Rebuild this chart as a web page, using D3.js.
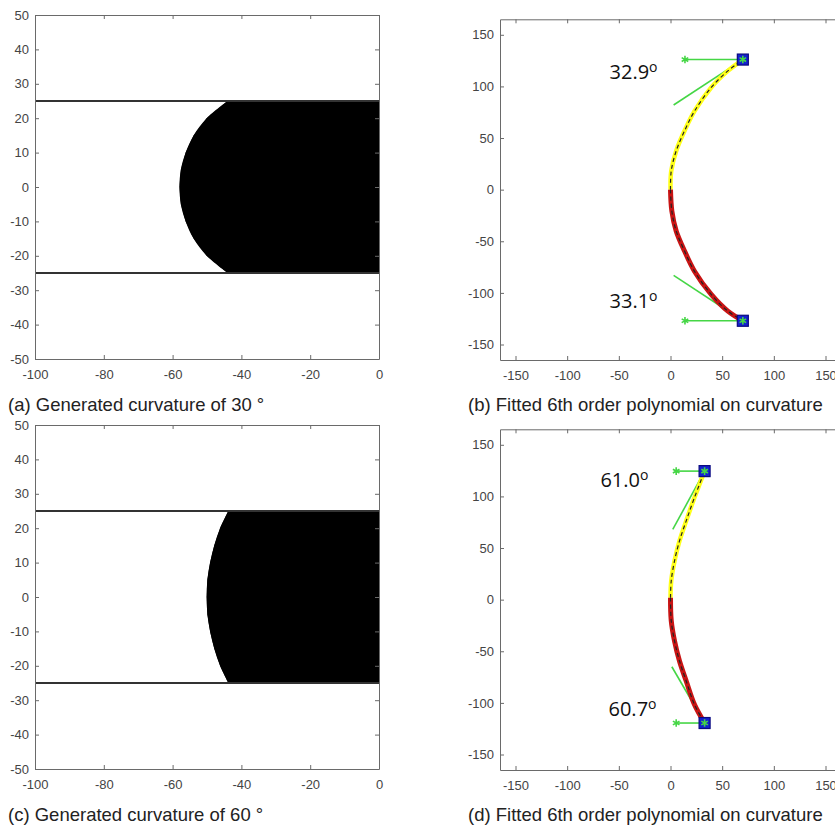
<!DOCTYPE html>
<html>
<head>
<meta charset="utf-8">
<script src="https://cdn.jsdelivr.net/npm/d3@7"></script>
<style>
  body { margin: 0; background: #fff; }
  svg { display: block; }
</style>
</head>
<body>
<div id="chart"></div>
<script>
// ---- data ----

// (a)/(c) boundary of the black segment, sampled along y
const capY = [25, 20, 15, 10, 5, 0, -5, -10, -15, -20, -25];
const capX30 = [-44, -50.1, -53.9, -56.2, -57.6, -58, -57.6, -56.2, -53.9, -50.1, -44];
const capX60 = [-43.8, -46.2, -47.9, -49.1, -49.9, -50.1, -49.9, -49.1, -47.9, -46.2, -43.8];
const wallY = [25, -25];
const leftXTicks = [-100, -80, -60, -40, -20, 0];
const leftYTicks = [-50, -40, -30, -20, -10, 0, 10, 20, 30, 40, 50];

// (b) fitted curve, 30 deg
const upperX30 = [0, 0.7, 5.5, 13.6, 23.2, 39.4, 55.5, 70];
const upperY30 = [0, 18, 37.5, 57, 76, 99, 115, 126];
const lowerX30 = [0, 1.3, 5.5, 13.6, 23.2, 39.4, 55.5, 70];
const lowerY30 = [0, -20.7, -40, -59.5, -79, -101.5, -117.7, -127];
const tipX30 = [70, 70];
const tipY30 = [126, -127];
const refX30 = [14, 14];
const tanX30 = [3, 3];
const tanY30 = [82, -83];
const angles30 = ['32.9', '33.1'];
const labelX30 = [-59, -59];
const labelY30 = [107, -115];

// (d) fitted curve, 60 deg
const upperX60 = [0, 0.7, 3.9, 8.7, 15.2, 23.2, 33];
const upperY60 = [1.9, 18.1, 37.5, 56.9, 76.3, 98.9, 124.5];
const lowerX60 = [0, 0.7, 3.9, 8.7, 15.2, 23.2, 33];
const lowerY60 = [1.9, -20.1, -40, -59.4, -78.8, -101.6, -119.5];
const tipX60 = [33, 33];
const tipY60 = [124.5, -119.5];
const refX60 = [5.5, 5.5];
const tanX60 = [2.2, 1.3];
const tanY60 = [68, -65];
const angles60 = ['61.0', '60.7'];
const labelX60 = [-67.8, -60];
const labelY60 = [109, -113];

const rightTicks = [-150, -100, -50, 0, 50, 100, 150];

const captions = [
  '(a) Generated curvature of 30 °',
  '(b) Fitted 6th order polynomial on curvature',
  '(c) Generated curvature of 60 °',
  '(d) Fitted 6th order polynomial on curvature'
];

// ---- drawing ----
const width = 835, height = 825;
const rowOffset = 410;
const axisColor = '#6a6a6a';
const textColor = '#444';
const green = '#45d645';

const svg = d3.select('#chart').append('svg')
  .attr('width', width)
  .attr('height', height)
  .style('font-family', '"Liberation Sans", Arial, sans-serif');

function styleAxis(g) {
  g.select('.domain').attr('stroke', axisColor).attr('stroke-width', 1);
  g.selectAll('.tick line').attr('stroke', axisColor);
  g.selectAll('.tick text').attr('fill', textColor).style('font-size', '13px');
}

// plain hyphen for negatives, like the original
const fmt = d => String(d);

function drawBox(g, x, y, xTicks, yTicks, labelPad) {
  const [x0, x1] = x.range();
  const [y0, y1] = y.range();
  g.append('g').attr('transform', `translate(0,${y0})`)
    .call(d3.axisBottom(x).tickValues(xTicks).tickFormat(fmt).tickSizeInner(-4).tickSizeOuter(0).tickPadding(labelPad))
    .call(styleAxis);
  g.append('g').attr('transform', `translate(0,${y1})`)
    .call(d3.axisTop(x).tickValues(xTicks).tickSizeInner(-4).tickSizeOuter(0).tickFormat(''))
    .call(styleAxis);
  g.append('g').attr('transform', `translate(${x0},0)`)
    .call(d3.axisLeft(y).tickValues(yTicks).tickFormat(fmt).tickSizeInner(-4).tickSizeOuter(0).tickPadding(6))
    .call(styleAxis);
  g.append('g').attr('transform', `translate(${x1},0)`)
    .call(d3.axisRight(y).tickValues(yTicks).tickSizeInner(-4).tickSizeOuter(0).tickFormat(''))
    .call(styleAxis);
}

function drawGenerated(top, capX, caption) {
  const g = svg.append('g');
  const x = d3.scaleLinear().domain([-100, 0]).range([35, 379]);
  const y = d3.scaleLinear().domain([-50, 50]).range([top + 344, top]);

  // black segment: straight right side plus the curved cap
  const pts = [[0, wallY[0]]]
    .concat(capY.map((v, i) => [capX[i], v]))
    .concat([[0, wallY[1]]]);
  g.append('path')
    .attr('d', d3.line().x(d => x(d[0])).y(d => y(d[1])).curve(d3.curveLinearClosed)(pts))
    .attr('fill', '#000');
  // smooth the cap edge
  g.append('path')
    .attr('d', d3.line().x(d => x(d[0])).y(d => y(d[1])).curve(d3.curveCatmullRom)(capY.map((v, i) => [capX[i], v])))
    .attr('fill', '#000').attr('stroke', 'none');

  // channel walls
  g.selectAll('.wall').data(wallY).enter().append('line')
    .attr('x1', x(-100)).attr('x2', x(0))
    .attr('y1', d => y(d)).attr('y2', d => y(d))
    .attr('stroke', '#333').attr('stroke-width', 2);

  drawBox(g, x, y, leftXTicks, leftYTicks, 11);

  g.append('text')
    .attr('x', 8).attr('y', top + 396)
    .attr('fill', '#222').style('font-size', '18.5px')
    .text(caption);
}

function drawFitted(top, d, caption) {
  const g = svg.append('g');
  const x = d3.scaleLinear().domain([-165, 165]).range([500, 841]);
  const y = d3.scaleLinear().domain([-165, 165]).range([top + 360, top + 19.3]);
  const line = d3.line().x(p => x(p[0])).y(p => y(p[1])).curve(d3.curveCatmullRom);

  const upper = d.upperX.map((v, i) => [v, d.upperY[i]]);
  const lower = d.lowerX.map((v, i) => [v, d.lowerY[i]]);

  // reference horizontals and tangent lines
  [0, 1].forEach(i => {
    g.append('line')
      .attr('x1', x(d.refX[i])).attr('y1', y(d.tipY[i]))
      .attr('x2', x(d.tipX[i])).attr('y2', y(d.tipY[i]))
      .attr('stroke', green).attr('stroke-width', 1.6);
    g.append('line')
      .attr('x1', x(d.tanX[i])).attr('y1', y(d.tanY[i]))
      .attr('x2', x(d.tipX[i])).attr('y2', y(d.tipY[i]))
      .attr('stroke', green).attr('stroke-width', 1.6);
  });

  g.append('path').attr('d', line(upper))
    .attr('fill', 'none').attr('stroke', '#ffff1a').attr('stroke-width', 4.5);
  g.append('path').attr('d', line(lower))
    .attr('fill', 'none').attr('stroke', '#c81414').attr('stroke-width', 5);
  [upper, lower].forEach(pts => {
    g.append('path').attr('d', line(pts))
      .attr('fill', 'none').attr('stroke', '#222').attr('stroke-width', 1.2)
      .attr('stroke-dasharray', '4,3');
  });

  // end markers
  [0, 1].forEach(i => {
    g.append('rect')
      .attr('x', x(d.tipX[i]) - 5.5).attr('y', y(d.tipY[i]) - 5.5)
      .attr('width', 11).attr('height', 11)
      .attr('fill', '#1420d0').attr('stroke', '#0a0a80').attr('stroke-width', 1.2);
    [[d.refX[i], d.tipY[i]], [d.tipX[i], d.tipY[i]]].forEach(p => {
      g.append('path')
        .attr('transform', `translate(${x(p[0])},${y(p[1])})`)
        .attr('d', d3.symbol(d3.symbolAsterisk, 40)())
        .attr('fill', 'none').attr('stroke', green).attr('stroke-width', 1.6);
    });
  });

  // angle annotations
  [0, 1].forEach(i => {
    const t = g.append('text')
      .attr('x', x(d.labelX[i])).attr('y', y(d.labelY[i]))
      .attr('fill', '#111')
      .style('font-family', '"Open Sans", "Noto Sans", sans-serif')
      .style('font-size', '20px');
    t.append('tspan').text(d.angles[i]);
    t.append('tspan').attr('dy', -7).style('font-size', '14px').text('o');
  });

  drawBox(g, x, y, rightTicks, rightTicks, 11);

  g.append('text')
    .attr('x', 468).attr('y', top + 411)
    .attr('fill', '#222').style('font-size', '18.5px')
    .text(caption);
}

drawGenerated(15, capX30, captions[0]);
drawGenerated(15 + rowOffset, capX60, captions[2]);

drawFitted(0, {
  upperX: upperX30, upperY: upperY30, lowerX: lowerX30, lowerY: lowerY30,
  tipX: tipX30, tipY: tipY30, refX: refX30, tanX: tanX30, tanY: tanY30,
  angles: angles30, labelX: labelX30, labelY: labelY30
}, captions[1]);
drawFitted(rowOffset, {
  upperX: upperX60, upperY: upperY60, lowerX: lowerX60, lowerY: lowerY60,
  tipX: tipX60, tipY: tipY60, refX: refX60, tanX: tanX60, tanY: tanY60,
  angles: angles60, labelX: labelX60, labelY: labelY60
}, captions[3]);
</script>
</body>
</html>
